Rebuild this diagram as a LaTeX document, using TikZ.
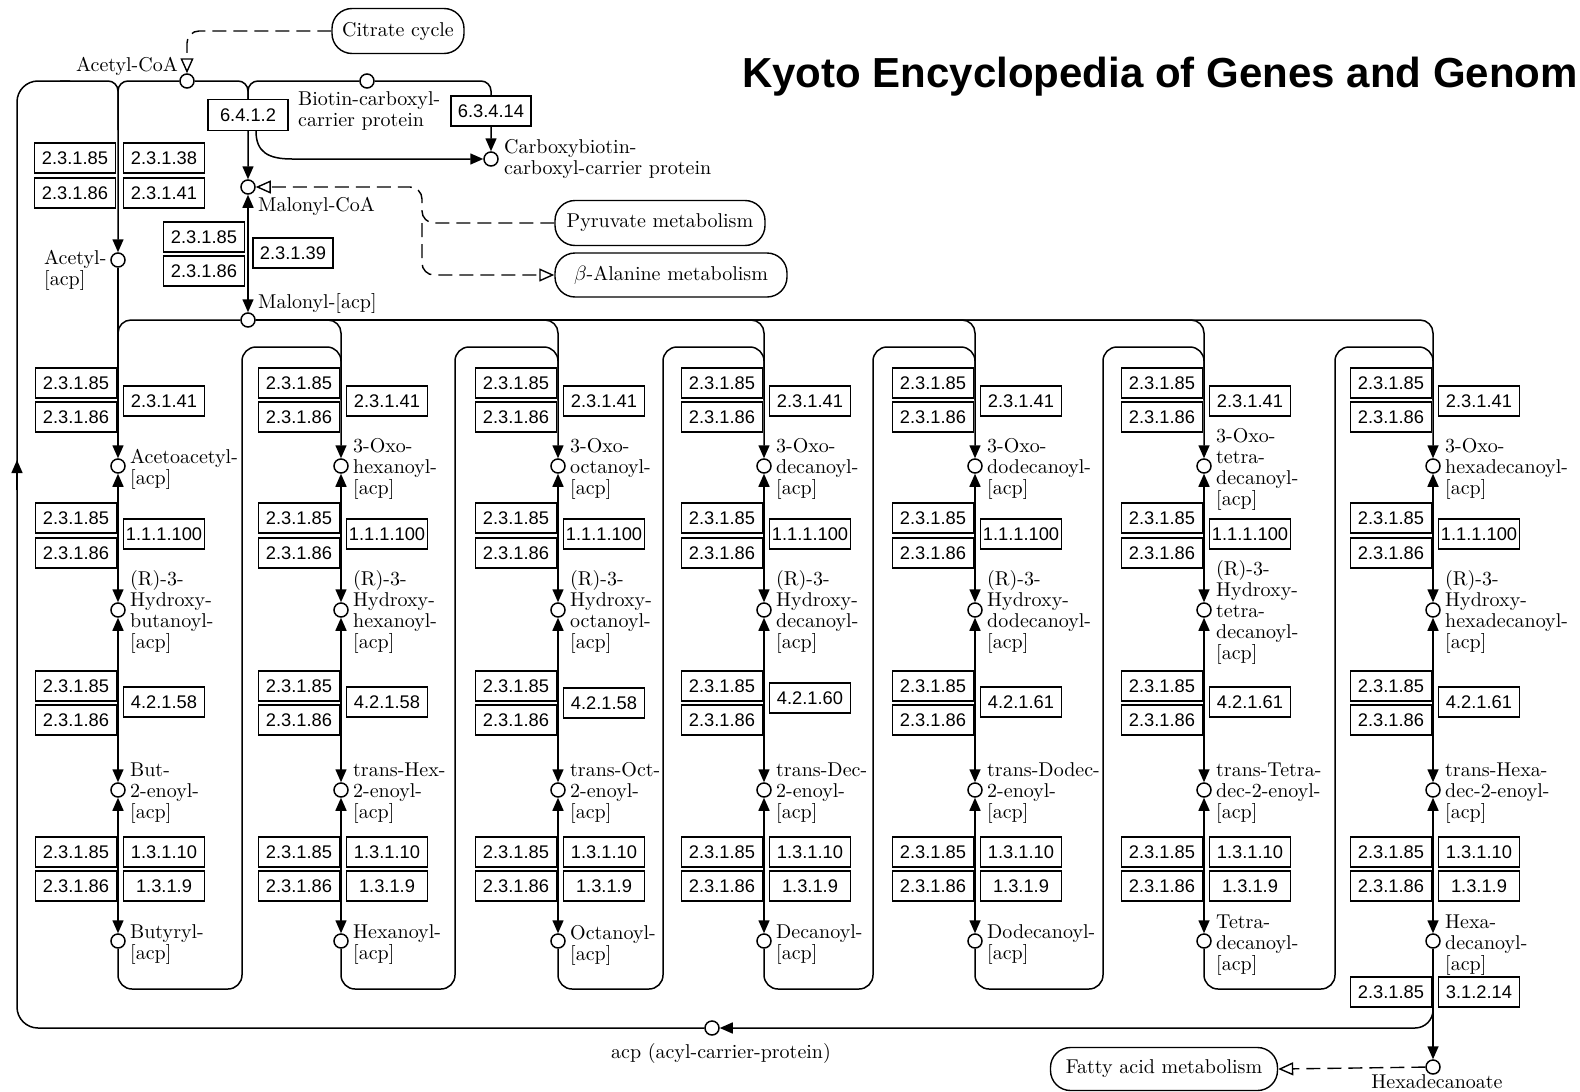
\documentclass[tikz,border=0pt]{standalone}
\usepackage{fontspec}
\newfontfamily\titlefont{Liberation Sans}
\newfontfamily\ecfont{Liberation Sans}
\newfontfamily\cpdfont{lmroman10-regular.otf}
\usetikzlibrary{arrows.meta}
\pgfdeclarelayer{paper}
\pgfdeclarelayer{lines}
\pgfsetlayers{paper,lines,main}
\newcommand\cpdsize{\cpdfont\fontsize{20}{21}\selectfont}
\newcommand\ecsize{\ecfont\fontsize{18.3}{20}\selectfont}

\tikzset{
  met/.style={circle, draw, fill=white, minimum size=14pt, inner sep=0pt, line width=1.5pt},
  ec/.style={draw, fill=white, minimum width=81pt, minimum height=30pt, inner sep=0pt,
             line width=1.4pt, font=\ecsize},
  mapbox/.style={draw, fill=white, rounded corners=20pt, minimum height=45pt, inner sep=0pt,
                 line width=1.4pt, font=\cpdsize},
  cpd/.style={anchor=west, align=left, inner sep=0pt, font=\cpdsize},
  txt/.style={inner sep=0pt, font=\cpdsize},
  conn/.style={line width=1.5pt},
  fwd/.style={conn, -{Triangle[length=13pt,width=11pt]}},
  rev/.style={conn, {Triangle[length=13pt,width=11pt]}-{Triangle[length=13pt,width=11pt]}},
  rel/.style={line width=1.4pt, dash pattern=on 14pt off 7pt},
  relto/.style={rel, -{Triangle[open, fill=white, length=15pt, width=13pt]}},
}

% one elongation cycle: 3-oxo -> 3-hydroxy -> enoyl -> acyl, with its enzymes
\newcommand\fascol[8]{%
  \node[met] (#1a) at (#2,466) {};
  \node[met] (#1b) at (#2,610) {};
  \node[met] (#1c) at (#2,790) {};
  \node[met] (#1d) at (#2,941) {};
  \node[cpd] (#1la) at (#2+12,469) {#3};
  \node[cpd] (#1lb) at (#2+12,612) {#4};
  \node[cpd] (#1lc) at (#2+12,793) {#5};
  \node[cpd] (#1ld) at (#2+12,945) {#6};
  \node[ec] (#1ka) at (#2-42,383) {2.3.1.85};
  \node[ec] (#1kb) at (#2-42,417) {2.3.1.86};
  \node[ec] (#1kc) at (#2+46,401) {2.3.1.41};
  \node[ec] (#1ra) at (#2-42,518) {2.3.1.85};
  \node[ec] (#1rb) at (#2-42,553) {2.3.1.86};
  \node[ec] (#1rc) at (#2+46,534) {1.1.1.100};
  \node[ec] (#1ha) at (#2-42,686) {2.3.1.85};
  \node[ec] (#1hb) at (#2-42,720) {2.3.1.86};
  \node[ec] (#1hc) at (#2+46,#8) {#7};
  \node[ec] (#1ea) at (#2-42,852) {2.3.1.85};
  \node[ec] (#1eb) at (#2-42,886) {2.3.1.86};
  \node[ec] (#1ec) at (#2+46,852) {1.3.1.10};
  \node[ec] (#1ed) at (#2+46,886) {1.3.1.9};
  \begin{pgfonlayer}{lines}
    \draw[rev] (#1a) -- (#1b);
    \draw[rev] (#1b) -- (#1c);
    \draw[rev] (#1c) -- (#1d);
  \end{pgfonlayer}
}

\begin{document}
\begin{tikzpicture}[x=1pt,y=-1pt]
\begin{pgfonlayer}{paper}
  \fill[white] (0,0) rectangle (1580,1092);
\end{pgfonlayer}
\useasboundingbox (0,0) rectangle (1580,1092);

% title
\node[anchor=base west, inner sep=0pt, font=\titlefont\bfseries\fontsize{42}{44}\selectfont]
  (title) at (742,87) {Kyoto Encyclopedia of Genes and Genom};

% linked pathway maps
\node[mapbox, minimum width=132pt] (cit) at (398,31) {Citrate cycle};
\node[mapbox, minimum width=210pt] (pyr) at (660,223) {Pyruvate metabolism};
\node[mapbox, minimum width=232pt, minimum height=44pt] (bala) at (671,275) {$\beta$-Alanine metabolism};
\node[mapbox, minimum width=227pt, minimum height=43pt] (fam) at (1164,1069) {Fatty acid metabolism};

% compounds of the priming steps
\node[met] (acoa) at (187,81) {};
\node[met] (bccp) at (367,81) {};
\node[met] (cbccp) at (491,159) {};
\node[met] (mcoa) at (248,187) {};
\node[met] (acacp) at (118,260) {};
\node[met] (macp) at (248,320) {};
\node[met] (acp) at (712,1028) {};
\node[met] (hexa) at (1433,1067) {};

\node[txt, anchor=east] (lacoa) at (178,66) {Acetyl-CoA};
\node[cpd] (lbccp) at (298,111) {Biotin-carboxyl-\\carrier protein};
\node[cpd] (lcbccp) at (504,159) {Carboxybiotin-\\carboxyl-carrier protein};
\node[cpd] (lmcoa) at (258,206) {Malonyl-CoA};
\node[cpd] (lacacp) at (44,270) {Acetyl-\\{[acp]}};
\node[cpd] (lmacp) at (258,303) {Malonyl-[acp]};
\node[txt, anchor=base] (lacp) at (721,1058) {acp (acyl-carrier-protein)};
\node[txt, anchor=base] (lhexa) at (1437,1088) {Hexadecanoate};

% enzymes of the priming steps
\node[ec, minimum width=80pt, minimum height=31pt] (e6412) at (248,115) {6.4.1.2};
\node[ec, minimum width=80pt] (e63414) at (491,111) {6.3.4.14};
\node[ec] (pa) at (75,158) {2.3.1.85};
\node[ec] (pb) at (75,193) {2.3.1.86};
\node[ec] (pc) at (164,158) {2.3.1.38};
\node[ec] (pd) at (164,193) {2.3.1.41};
\node[ec] (ma) at (204,237) {2.3.1.85};
\node[ec] (mb) at (204,271) {2.3.1.86};
\node[ec, minimum width=80pt] (mc) at (293,253) {2.3.1.39};

% elongation cycles
\fascol{k1}{118}{Acetoacetyl-\\{[acp]}}{(R)-3-\\Hydroxy-\\butanoyl-\\{[acp]}}{But-\\2-enoyl-\\{[acp]}}{Butyryl-\\{[acp]}}{4.2.1.58}{702}
\fascol{k2}{341}{3-Oxo-\\hexanoyl-\\{[acp]}}{(R)-3-\\Hydroxy-\\hexanoyl-\\{[acp]}}{trans-Hex-\\2-enoyl-\\{[acp]}}{Hexanoyl-\\{[acp]}}{4.2.1.58}{702}
\fascol{k3}{558}{3-Oxo-\\octanoyl-\\{[acp]}}{(R)-3-\\Hydroxy-\\octanoyl-\\{[acp]}}{trans-Oct-\\2-enoyl-\\{[acp]}}{Octanoyl-\\{[acp]}}{4.2.1.58}{703}
\fascol{k4}{764}{3-Oxo-\\decanoyl-\\{[acp]}}{(R)-3-\\Hydroxy-\\decanoyl-\\{[acp]}}{trans-Dec-\\2-enoyl-\\{[acp]}}{Decanoyl-\\{[acp]}}{4.2.1.60}{698}
\fascol{k5}{975}{3-Oxo-\\dodecanoyl-\\{[acp]}}{(R)-3-\\Hydroxy-\\dodecanoyl-\\{[acp]}}{trans-Dodec-\\2-enoyl-\\{[acp]}}{Dodecanoyl-\\{[acp]}}{4.2.1.61}{702}
\fascol{k6}{1204}{3-Oxo-\\tetra-\\decanoyl-\\{[acp]}}{(R)-3-\\Hydroxy-\\tetra-\\decanoyl-\\{[acp]}}{trans-Tetra-\\dec-2-enoyl-\\{[acp]}}{Tetra-\\decanoyl-\\{[acp]}}{4.2.1.61}{702}
\fascol{k7}{1433}{3-Oxo-\\hexadecanoyl-\\{[acp]}}{(R)-3-\\Hydroxy-\\hexadecanoyl-\\{[acp]}}{trans-Hexa-\\dec-2-enoyl-\\{[acp]}}{Hexa-\\decanoyl-\\{[acp]}}{4.2.1.61}{702}

% thioesterase step
\node[ec] (ta) at (1391,992) {2.3.1.85};
\node[ec] (tb) at (1479,992) {3.1.2.14};

% junction points
\coordinate (ja) at (118,81);
\coordinate (jb) at (248,81);
\coordinate (jc) at (491,81);
\coordinate (bcs) at (256,131);
\coordinate (jm) at (118,320);
\coordinate (j2) at (341,320);
\coordinate (j3) at (558,320);
\coordinate (j4) at (764,320);
\coordinate (j5) at (975,320);
\coordinate (j6) at (1204,320);
\coordinate (j7) at (1433,320);
\coordinate (jd) at (422,187);
\coordinate (jp) at (422,223);
\coordinate (jh) at (1433,985);
\coordinate (jr) at (17,490);
\coordinate (jq) at (17,460);

\begin{pgfonlayer}{lines}
  % priming reactions
  \draw[fwd, rounded corners=10pt] (acoa) -- (ja) -- (acacp);
  \draw[fwd, rounded corners=10pt] (acoa) -- (jb) -- (mcoa);
  \draw[conn, rounded corners=10pt] (bccp) -- (jb) -- (248,112);
  \draw[fwd, rounded corners=10pt] (bccp) -- (jc) -- (cbccp);
  \draw[fwd] (bcs) .. controls (256,152) and (268,159) .. (292,159) -- (cbccp);
  \draw[rev] (mcoa) -- (macp);
  \draw[fwd] (acacp) -- (k1a);

  % malonyl-[acp] feeding every condensation
  \draw[conn, rounded corners=13pt] (macp) -- (jm) -- (118,350);
  \draw[fwd, rounded corners=13pt] (macp) -- (j2) -- (k2a);
  \draw[fwd, rounded corners=13pt] (macp) -- (j3) -- (k3a);
  \draw[fwd, rounded corners=13pt] (macp) -- (j4) -- (k4a);
  \draw[fwd, rounded corners=13pt] (macp) -- (j5) -- (k5a);
  \draw[fwd, rounded corners=13pt] (macp) -- (j6) -- (k6a);
  \draw[fwd, rounded corners=13pt] (macp) -- (j7) -- (k7a);

  % acyl-[acp] returned to the next cycle
  \draw[conn, rounded corners=14pt] (k1d) -- (118,989) -- (242,989) -- (242,347) -- (341,347) -- (341,400);
  \draw[conn, rounded corners=14pt] (k2d) -- (341,989) -- (455,989) -- (455,347) -- (558,347) -- (558,400);
  \draw[conn, rounded corners=14pt] (k3d) -- (558,989) -- (663,989) -- (663,347) -- (764,347) -- (764,400);
  \draw[conn, rounded corners=14pt] (k4d) -- (764,989) -- (873,989) -- (873,347) -- (975,347) -- (975,400);
  \draw[conn, rounded corners=14pt] (k5d) -- (975,989) -- (1103,989) -- (1103,347) -- (1204,347) -- (1204,400);
  \draw[conn, rounded corners=14pt] (k6d) -- (1204,989) -- (1335,989) -- (1335,347) -- (1433,347) -- (1433,400);

  % release of hexadecanoate and recycling of acp
  \draw[fwd] (k7d) -- (hexa);
  \draw[fwd, rounded corners=18pt] (jh) -- (1433,1028) -- (acp);
  \draw[conn, rounded corners=21pt] (acp) -- (17,1028) -- (17,81) -- (70,81);
  \draw[conn, rounded corners=10pt] (60,81) -- (ja) -- (118,130);
  \draw[fwd] (jr) -- (jq);

  % links to other maps
  \draw[relto, rounded corners=12pt] (cit.west) -- (187,31) -- (acoa);
  \draw[relto, rounded corners=12pt] (pyr.west) -- (jp) -- (jd) -- (mcoa);
  \draw[relto, rounded corners=12pt] (jp) -- (422,275) -- (bala.west);
  \draw[relto] (hexa) -- (fam.east);
\end{pgfonlayer}
\end{tikzpicture}
\end{document}
